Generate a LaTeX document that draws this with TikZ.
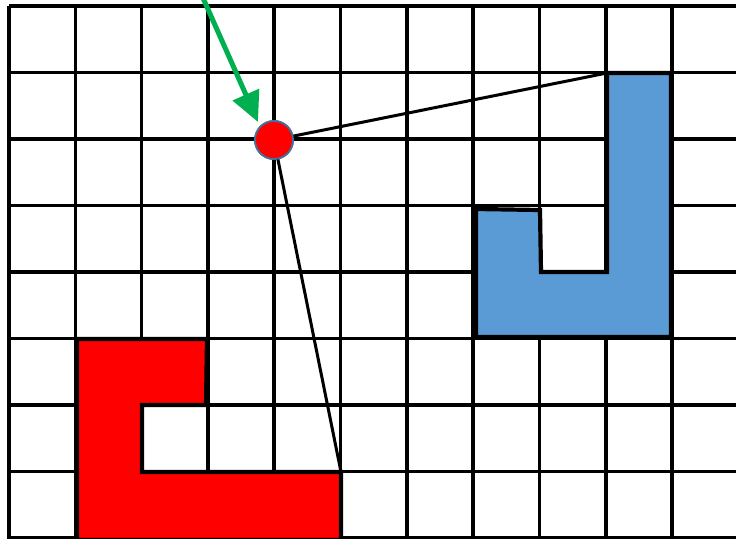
\documentclass[tikz,border=0pt]{standalone}
\usetikzlibrary{arrows.meta}
\definecolor{gridred}{HTML}{FF0000}
\definecolor{gridblue}{HTML}{5B9BD5}
\definecolor{arrowgreen}{HTML}{00B050}
\definecolor{ptborder}{HTML}{41719C}
\tikzset{
  gridline/.style={line width=3.6pt, black},
  shapeoutline/.style={line width=4.2pt, black, line join=miter},
  ray/.style={line width=3pt, black},
  pointer/.style={line width=5pt, arrowgreen, -{Triangle[length=30pt,width=28pt]}},
  viewpt/.style={circle, fill=gridred, draw=ptborder, line width=1.8pt, minimum size=38pt, inner sep=0pt}
}
\begin{document}
\begin{tikzpicture}[x=1pt,y=-1pt]
\useasboundingbox (0,0) rectangle (736,538);
\fill[white] (0,0) rectangle (736,538);
% grid
\foreach \i in {0,...,10} {
  \draw[gridline] ({9+66.3*\i},6) -- ({9+66.3*\i},540);
}
\foreach \j in {0,...,8} {
  \draw[gridline] (9,{6+66.5*\j}) -- (740,{6+66.5*\j});
}
% red shape
\draw[shapeoutline, fill=gridred] (77,339) -- (207,339) -- (206,405) -- (142,405) -- (142,472) -- (341,472) -- (341,540) -- (77,540) -- cycle;
% blue shape
\draw[shapeoutline, fill=gridblue] (607,73) -- (671,73) -- (671,337) -- (476,337) -- (476,209) -- (540,210) -- (541,272) -- (607,272) -- cycle;
% rays
\coordinate (bc) at (607,73);
\coordinate (rc) at (341,472);
\node[viewpt] (p) at (274,140) {};
\draw[ray] (p.center) -- (bc);
\draw[ray] (p.center) -- (rc);
\node[viewpt] at (p) {};
% arrow
\coordinate (as) at (203,-2);
\coordinate (at) at (258,122);
\draw[pointer] (as) -- (at);
\end{tikzpicture}
\end{document}
